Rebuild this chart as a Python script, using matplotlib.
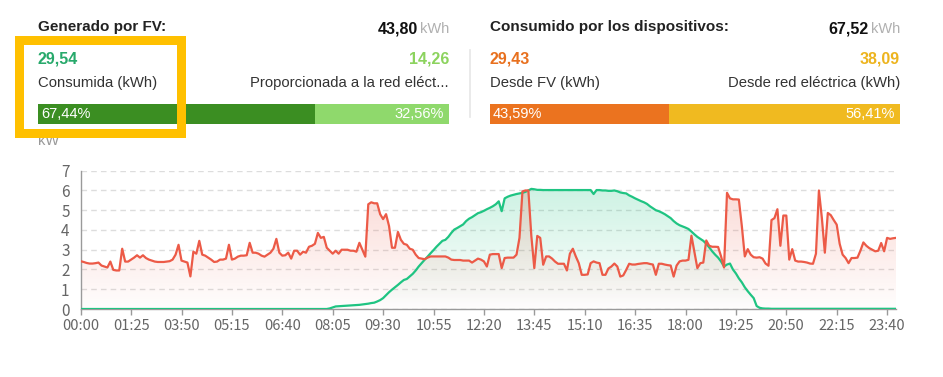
import numpy as np
import matplotlib
matplotlib.use("Agg")
import matplotlib.pyplot as plt
from matplotlib.patches import Rectangle, Polygon
from matplotlib.colors import to_rgb

# ---------------- data ----------------
tick_labels = ["00:00", "01:25", "03:50", "05:15", "06:40", "08:05", "09:30", "10:55",
               "12:20", "13:45", "15:10", "16:35", "18:00", "19:25", "20:50", "22:15", "23:40"]
tick_every = 17  # one label every 17 five-minute samples

# consumption of the devices (kW), one value per 5-min sample
consumption = [
    2.42, 2.38, 2.33, 2.30, 2.30, 2.32, 2.35, 2.20, 2.15, 2.10, 2.40, 1.98,
    1.95, 1.95, 3.05, 2.40, 2.40, 2.50, 2.60, 2.72, 2.60, 2.72, 2.58, 2.50,
    2.45, 2.40, 2.38, 2.38, 2.38, 2.40, 2.42, 2.50, 2.75, 3.25, 2.45, 2.40,
    2.35, 1.65, 2.90, 2.80, 3.45, 2.75, 2.70, 2.60, 2.50, 2.38, 2.40, 2.50,
    2.50, 2.55, 3.25, 2.50, 2.55, 2.65, 2.70, 2.70, 2.72, 3.35, 2.85, 2.85,
    2.80, 2.70, 2.65, 2.75, 2.85, 3.05, 3.55, 2.85, 2.70, 2.72, 2.85, 2.55,
    2.95, 2.95, 2.75, 2.90, 2.85, 3.15, 3.20, 3.30, 3.85, 3.60, 3.65, 3.10,
    2.95, 2.80, 2.95, 2.80, 3.00, 3.00, 3.00, 2.95, 2.95, 2.90, 3.35, 3.00,
    2.65, 5.30, 5.40, 5.35, 5.35, 4.80, 4.55, 4.80, 4.20, 3.10, 3.10, 3.90,
    3.50, 3.30, 3.25, 3.05, 3.00, 2.75, 2.58, 2.55, 2.52, 2.60, 2.66, 2.66,
    2.66, 2.66, 2.66, 2.66, 2.60, 2.50, 2.48, 2.48, 2.48, 2.45, 2.45, 2.45,
    2.35, 2.45, 2.55, 2.50, 2.41, 2.15, 2.75, 2.78, 2.78, 2.78, 2.07, 2.58,
    2.60, 2.60, 2.60, 2.75, 3.60, 5.95, 6.00, 6.00, 3.70, 2.07, 3.70, 3.60,
    2.24, 2.66, 2.66, 2.55, 2.40, 2.29, 2.29, 2.29, 1.95, 2.80, 3.05, 2.66,
    2.32, 1.73, 1.73, 1.75, 2.32, 2.41, 2.35, 2.32, 1.73, 1.73, 2.05, 2.15,
    2.30, 2.15, 1.64, 1.70, 1.98, 2.29, 2.25, 2.25, 2.28, 2.30, 2.32, 2.32,
    2.28, 2.25, 1.73, 2.29, 2.29, 2.25, 2.22, 2.20, 1.64, 2.20, 2.41, 2.45,
    2.45, 2.49, 3.71, 2.90, 2.07, 2.32, 2.35, 3.47, 3.20, 3.15, 3.15, 3.14,
    2.66, 2.10, 5.88, 5.60, 5.55, 5.55, 5.54, 4.20, 2.66, 3.03, 2.75, 2.62,
    2.60, 2.62, 2.55, 2.30, 2.19, 4.50, 4.60, 5.05, 3.20, 4.73, 4.73, 2.50,
    3.03, 2.45, 2.40, 2.40, 2.38, 2.35, 2.30, 2.29, 2.80, 6.00, 4.60, 2.85,
    4.86, 4.75, 4.50, 4.27, 3.30, 2.75, 2.58, 2.32, 2.58, 2.58, 2.60, 2.95,
    3.37, 3.20, 3.08, 3.00, 2.92, 2.95, 3.34, 2.92, 3.60, 3.55, 3.58, 3.60,
]

# PV generation (kW)
pv_power = [
    0, 0, 0, 0, 0, 0, 0, 0, 0, 0, 0, 0,
    0, 0, 0, 0, 0, 0, 0, 0, 0, 0, 0, 0,
    0, 0, 0, 0, 0, 0, 0, 0, 0, 0, 0, 0,
    0, 0, 0, 0, 0, 0, 0, 0, 0, 0, 0, 0,
    0, 0, 0, 0, 0, 0, 0, 0, 0, 0, 0, 0,
    0, 0, 0, 0, 0, 0, 0, 0, 0, 0, 0, 0,
    0, 0, 0, 0, 0, 0, 0, 0, 0, 0, 0, 0,
    0.03, 0.08, 0.13, 0.14, 0.15, 0.16, 0.17, 0.18, 0.19, 0.20, 0.21, 0.23,
    0.25, 0.27, 0.30, 0.32, 0.38, 0.45, 0.55, 0.70, 0.85, 0.98, 1.10, 1.22,
    1.35, 1.47, 1.52, 1.65, 1.78, 1.95, 2.15, 2.32, 2.49, 2.65, 2.82, 2.98,
    3.15, 3.30, 3.45, 3.50, 3.65, 3.85, 4.02, 4.10, 4.19, 4.28, 4.45, 4.57,
    4.65, 4.75, 4.85, 4.90, 4.97, 5.05, 5.12, 5.20, 5.30, 5.45, 4.95, 5.60,
    5.68, 5.74, 5.78, 5.82, 5.85, 5.88, 5.93, 6.00, 6.08, 6.06, 6.03, 6.03,
    6.02, 6.02, 6.02, 6.02, 6.02, 6.02, 6.02, 6.02, 6.02, 6.02, 6.02, 6.02,
    6.02, 6.02, 6.02, 6.02, 6.02, 5.82, 6.02, 6.02, 6.00, 6.00, 5.98, 5.98,
    6.00, 5.96, 5.90, 5.87, 5.85, 5.75, 5.68, 5.60, 5.53, 5.46, 5.40, 5.32,
    5.20, 5.10, 5.00, 4.95, 4.88, 4.80, 4.70, 4.60, 4.45, 4.33, 4.24, 4.18,
    4.12, 4.05, 3.92, 3.78, 3.65, 3.55, 3.45, 3.30, 3.12, 2.92, 2.75, 2.60,
    2.40, 2.15, 2.25, 2.30, 2.00, 1.80, 1.55, 1.35, 1.10, 0.90, 0.72, 0.55,
    0.15, 0.06, 0.03, 0.02, 0.02, 0.01, 0.01, 0.01, 0.01, 0.01, 0.01, 0.01,
    0.01, 0.01, 0.01, 0.01, 0.01, 0.01, 0.01, 0.01, 0.01, 0.01, 0.01, 0.01,
    0.01, 0.01, 0.01, 0.01, 0.01, 0.01, 0.01, 0.01, 0.01, 0.01, 0.01, 0.01,
    0.01, 0.01, 0.01, 0.01, 0.01, 0.01, 0.01, 0.01, 0.01, 0.01, 0.01, 0.01,
]

# summary panel values
gen_title = "Generado por FV:"
gen_total = "43,80"
gen_self, gen_self_label, gen_self_pct = "29,54", "Consumida (kWh)", 67.44
gen_grid, gen_grid_label, gen_grid_pct = "14,26", "Proporcionada a la red eléct...", 32.56
con_title = "Consumido por los dispositivos:"
con_total = "67,52"
con_pv, con_pv_label, con_pv_pct = "29,43", "Desde FV (kWh)", 43.59
con_grid, con_grid_label, con_grid_pct = "38,09", "Desde red eléctrica (kWh)", 56.41
unit = "kWh"
y_unit = "kW"

# ---------------- styling ----------------
W, H = 943, 377
FONT = ["Liberation Sans", "DejaVu Sans"]
AXFONT = ["Noto Sans CJK SC", "DejaVu Sans"]
RED = "#EC5A47"
GREEN = "#1FC482"
fig = plt.figure(figsize=(W / 100, H / 100), dpi=100)
fig.patch.set_facecolor("white")

# chart axes (pixel box: x 80.7..896, y 170.7..309)
x0p, x1p, ytp, ybp = 80.7, 896.0, 170.7, 309.0
ax = fig.add_axes([x0p / W, 1 - ybp / H, (x1p - x0p) / W, (ybp - ytp) / H])
n = len(consumption)
x = np.arange(n)
cons = np.array(consumption, dtype=float)
pv = np.array(pv_power, dtype=float)


def gradient_fill(ax, x, y, color, a_top, a_bot, z):
    ymax = float(np.max(y))
    rgb = to_rgb(color)
    grad = np.zeros((256, 1, 4))
    grad[:, :, :3] = rgb
    grad[:, 0, 3] = np.linspace(a_top, a_bot, 256)
    im = ax.imshow(grad, aspect="auto", extent=[x[0], x[-1], 0, ymax],
                   origin="upper", zorder=z, interpolation="bilinear")
    verts = list(zip(x, y)) + [(x[-1], 0), (x[0], 0)]
    poly = Polygon(verts, closed=True, facecolor="none", edgecolor="none",
                   transform=ax.transData)
    ax.add_patch(poly)
    im.set_clip_path(poly)


gradient_fill(ax, x, pv, GREEN, 0.22, 0.0, 1)
gradient_fill(ax, x, cons, RED, 0.22, 0.01, 2)
ax.plot(x, pv, color=GREEN, lw=1.6, zorder=4, solid_joinstyle="round")
ax.plot(x, cons, color=RED, lw=1.6, zorder=5, solid_joinstyle="round")

ax.set_xlim(0, n - 1)
ax.set_ylim(0, 7)
ax.set_aspect("auto")
ax.set_yticks(range(0, 8))
ax.yaxis.grid(True, color="#dddddd", lw=1, linestyle=(0, (4, 3)))
ax.set_axisbelow(True)
ticks = np.arange(len(tick_labels)) * tick_every
ax.set_xticks(ticks)
ax.set_xticklabels(tick_labels)
for s in ["top", "right"]:
    ax.spines[s].set_visible(False)
for s in ["left", "bottom"]:
    ax.spines[s].set_color("#9a9a9a")
    ax.spines[s].set_linewidth(1)
ax.tick_params(axis="y", length=0, pad=8, labelcolor="#666666", labelsize=11)
ax.tick_params(axis="x", length=4, width=1, color="#9a9a9a", pad=3,
               labelcolor="#666666", labelsize=10.5)
for lab in ax.get_xticklabels() + ax.get_yticklabels():
    lab.set_family(AXFONT)

# overlay axes in pixel coords for the summary panel
ov = fig.add_axes([0, 0, 1, 1], zorder=10)
ov.set_xlim(0, W)
ov.set_ylim(H, 0)
ov.axis("off")
ov.patch.set_alpha(0)


def txt(xp, yp, s, ha="left", size=11, color="#222222", weight="normal", z=3):
    ov.text(xp, yp, s, ha=ha, va="center", fontsize=size, color=color,
            fontweight=weight, family=FONT, zorder=z)


def panel(xl, xr, title, total, v1, l1, p1, c1, v2, l2, p2, c2, b1, b2):
    txt(xl, 27, title, size=11, weight="bold", color="#222222")
    ov.text(xr - 31, 29, total, ha="right", va="center", fontsize=11.5,
            fontweight="bold", color="#111111", family=FONT)
    txt(xr, 29, unit, ha="right", size=10.5, color="#b0b0b0")
    txt(xl, 59, v1, size=11.5, weight="bold", color=c1)
    txt(xr, 59, v2, ha="right", size=11.5, weight="bold", color=c2)
    txt(xl, 83, l1, size=10.7, color="#333333")
    txt(xr, 83, l2, ha="right", size=10.7, color="#333333")
    bw = xr - xl
    split = xl + bw * p1 / (p1 + p2)
    ov.add_patch(Rectangle((xl, 104), split - xl, 20, facecolor=b1, edgecolor="none"))
    ov.add_patch(Rectangle((split, 104), xr - split, 20, facecolor=b2, edgecolor="none"))
    txt(xl + 3, 114.5, f"{p1:.2f}%".replace(".", ","), size=10.5, color="white")
    txt(xr - 5, 114.5, f"{p2:.2f}%".replace(".", ","), ha="right", size=10.5, color="white")


panel(38, 449, gen_title, gen_total, gen_self, gen_self_label, gen_self_pct, "#27A96B",
      gen_grid, gen_grid_label, gen_grid_pct, "#8CD35E", "#3B8E22", "#8FD96C")
panel(490, 900, con_title, con_total, con_pv, con_pv_label, con_pv_pct, "#E8701E",
      con_grid, con_grid_label, con_grid_pct, "#EDB41E", "#EB731F", "#F0BA20")

# separator
ov.plot([470, 470], [50, 117], color="#e6e6e6", lw=1.2)

# y unit label (partly under the highlight box)
txt(38, 141, y_unit, size=10.5, color="#999999", z=1)

# highlight box
ov.add_patch(Rectangle((18.5, 39.5), 162, 93, facecolor="none",
                       edgecolor="#FFC000", lw=9 * 72 / 100, zorder=20))

fig.savefig("out.png", dpi=100, facecolor="white")
